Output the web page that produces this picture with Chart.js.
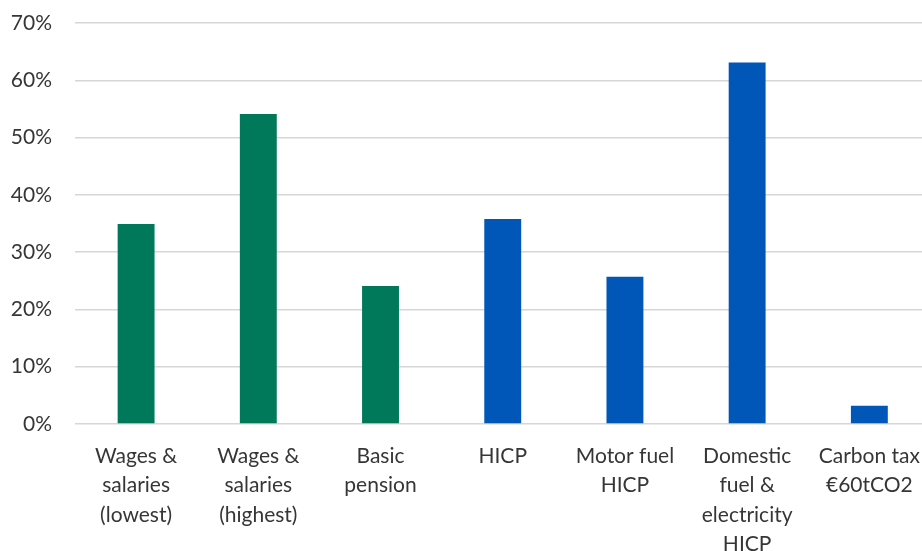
<!DOCTYPE html>
<html>
<head>
<meta charset="utf-8">
<title>Indexation comparison</title>
<script src="https://cdn.jsdelivr.net/npm/chart.js@4"></script>
<style>
  html, body { margin: 0; padding: 0; background: #ffffff; overflow: hidden; }
  #wrap { width: 922px; height: 551px; overflow: hidden; }
  canvas { display: block; }
</style>
</head>
<body>
<div id="wrap"><canvas id="chart" width="937" height="551"></canvas></div>
<script>
// Category labels (multi-line)
const categories = [
  ["Wages &", "salaries", "(lowest)"],
  ["Wages &", "salaries", "(highest)"],
  ["Basic", "pension"],
  ["HICP"],
  ["Motor fuel", "HICP"],
  ["Domestic", "fuel &", "electricity", "HICP"],
  ["Carbon tax", "€60tCO2"]
];

// Percentage increase per category
const values = [34.9, 54.1, 24.1, 35.8, 25.7, 63.1, 3.2];

// Income measures in green, price measures in blue
const barColors = ["#00795B", "#00795B", "#00795B", "#0057B7", "#0057B7", "#0057B7", "#0057B7"];

// Y axis tick values
const yTicks = [0, 10, 20, 30, 40, 50, 60, 70];

const textColor = "#363636";
const fontFamily = "Lato, 'Open Sans', sans-serif";

new Chart(document.getElementById("chart"), {
  type: "bar",
  data: {
    labels: categories,
    datasets: [{
      data: values,
      backgroundColor: barColors,
      borderWidth: 0,
      barPercentage: 1,
      categoryPercentage: 0.302
    }]
  },
  options: {
    responsive: false,
    animation: false,
    devicePixelRatio: 1,
    layout: { padding: 0 },
    plugins: {
      legend: { display: false },
      tooltip: { enabled: false }
    },
    scales: {
      x: {
        grid: { display: false, drawTicks: false },
        border: { display: false },
        ticks: {
          color: textColor,
          font: { family: fontFamily, size: 21, lineHeight: "29.5px" },
          padding: 17,
          maxRotation: 0,
          minRotation: 0,
          autoSkip: false
        },
        afterFit(scale) { scale.height = 127; }
      },
      y: {
        min: 0,
        max: 70,
        afterBuildTicks(scale) { scale.ticks = yTicks.map(v => ({ value: v })); },
        grid: { color: "#d6d6d6", lineWidth: 1.5, drawTicks: false },
        border: { display: false },
        ticks: {
          color: textColor,
          font: { family: fontFamily, size: 21 },
          padding: 23,
          callback: v => v + "%"
        },
        afterFit(scale) {
          scale.width = 75;
          scale.paddingTop = 23;
          scale.paddingBottom = 0;
        }
      }
    }
  }
});
</script>
</body>
</html>
